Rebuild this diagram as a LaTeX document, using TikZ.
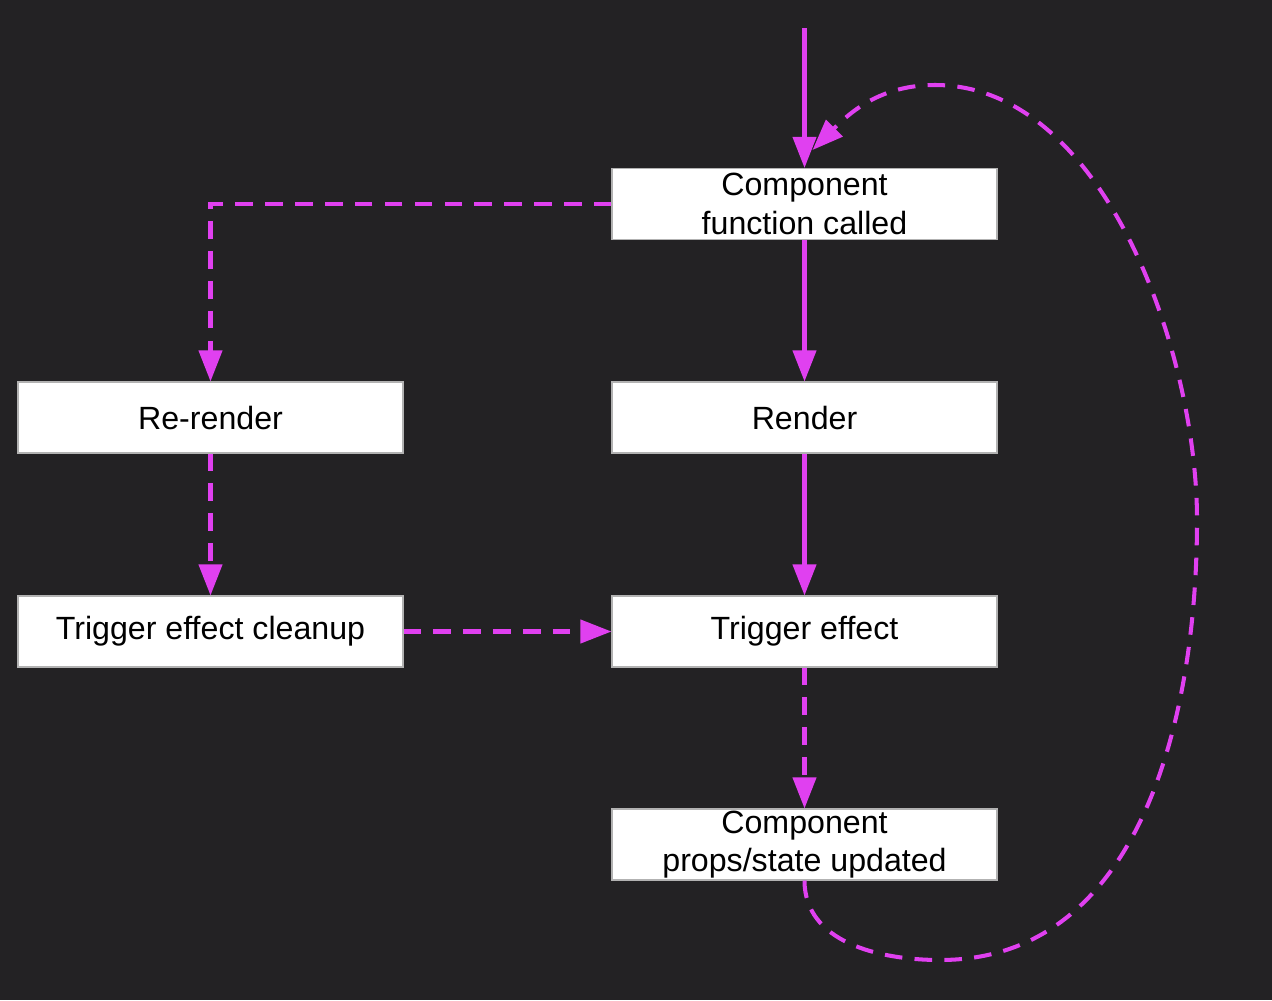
\documentclass[tikz,border=0pt]{standalone}
\usepackage{fontspec}
\setmainfont{Liberation Sans}
\usepackage{tikz}
\usetikzlibrary{arrows.meta}
\definecolor{bgdark}{RGB}{35,34,36}
\definecolor{magline}{RGB}{224,64,240}

\begin{document}
\begin{tikzpicture}[
    box/.style={draw=gray!60, line width=0.6pt, fill=white, text=black,
        minimum width=7.7cm, minimum height=1.42cm, inner sep=0pt,
        align=center, font=\fontsize{18.3}{22}\selectfont},
    flow/.style={magline, line width=2.3pt, -{Triangle[length=0.62cm,width=0.46cm]}},
    dflow/.style={flow, dash pattern=on 10pt off 7pt}
]

    % Background
    \fill[bgdark] (0,0) rectangle (25.44,-20);
    \useasboundingbox (0,0) rectangle (25.44,-20);

    % Boxes
    \node[box] (comp) at (16.09,-4.08) {Component\\function called};
    \node[box] (rerender) at (4.21,-8.35) {Re-render};
    \node[box] (render) at (16.09,-8.35) {Render};
    \node[box] (cleanup) at (4.21,-12.63) {Trigger effect cleanup};
    \node[box] (effect) at (16.09,-12.63) {Trigger effect};
    \node[box] (updated) at (16.09,-16.89) {Component\\props/state updated};

    % Entry
    \coordinate (start) at (16.09,-0.56);
    \draw[flow] (start) -- (comp);

    % Main path
    \draw[flow] (comp) -- (render);
    \draw[flow] (render) -- (effect);
    \draw[dflow] (effect) -- (updated);

    % Re-render path
    \draw[dflow] (comp.west) -| (rerender.north);
    \draw[dflow] (rerender) -- (cleanup);
    \draw[dflow] (cleanup) -- (effect);

    % Loop back
    \coordinate (lbot) at (18.8,-19.2);
    \coordinate (lright) at (23.94,-10.4);
    \coordinate (ltop) at (18.7,-1.7);
    \coordinate (lend) at (16.25,-3.0);
    \draw[dflow] (updated.south) to[out=-90,in=180] (lbot)
        to[out=0,in=-90] (lright) to[out=90,in=0,looseness=0.85] (ltop)
        to[out=180,in=45] (lend);

\end{tikzpicture}
\end{document}
